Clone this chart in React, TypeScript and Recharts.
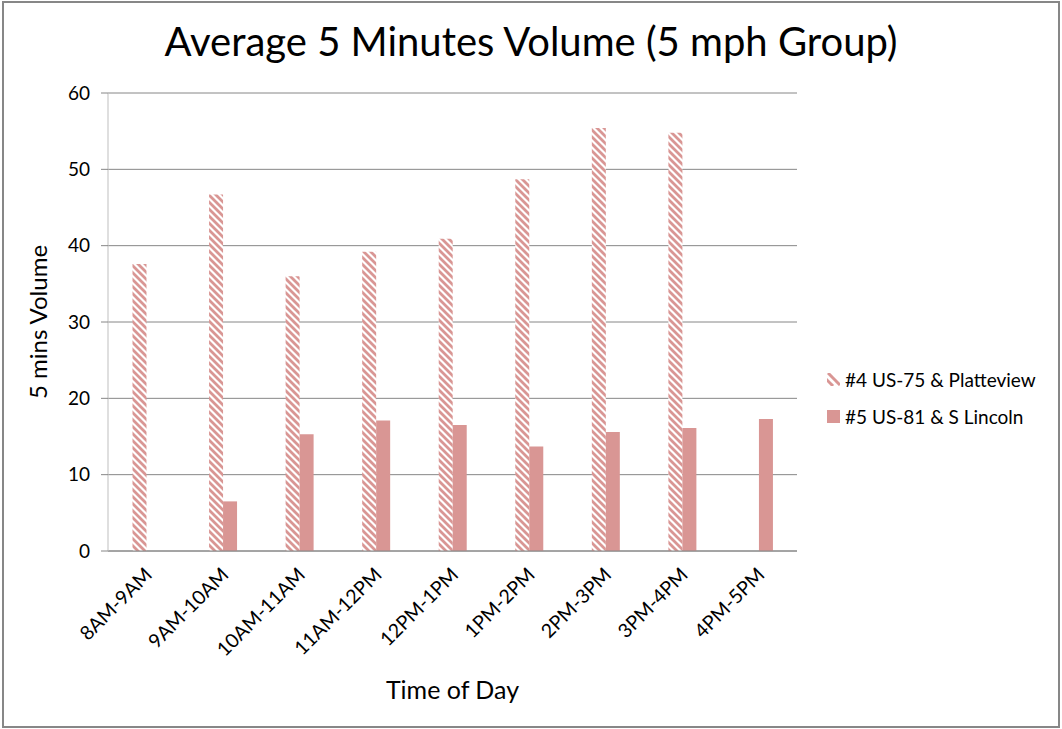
import { Bar, BarChart, CartesianGrid, XAxis, YAxis } from 'recharts'

const categories = ['8AM-9AM', '9AM-10AM', '10AM-11AM', '11AM-12PM', '12PM-1PM', '1PM-2PM', '2PM-3PM', '3PM-4PM', '4PM-5PM']
const platteview = [37.6, 46.7, 36.0, 39.2, 40.9, 48.7, 55.4, 54.8, null]
const lincoln = [null, 6.5, 15.3, 17.1, 16.5, 13.7, 15.6, 16.1, 17.3]
const yTicks = [0, 10, 20, 30, 40, 50, 60]

const SERIES_NAMES = ['#4 US-75 & Platteview', '#5 US-81 & S Lincoln']
const BAR_COLOR = '#D99694'
const FONT = 'Lato, "Open Sans", sans-serif'

const data = categories.map((name, i) => ({
  name,
  platteview: platteview[i],
  lincoln: lincoln[i],
}))

function AngledTick({ x, y, payload }: any) {
  return (
    <g transform={`translate(${x + 7},${y + 17})`}>
      <text
        textAnchor="end"
        transform="rotate(-45)"
        fontSize={19.5}
        fontFamily={FONT}
        fill="#000"
      >
        {payload.value}
      </text>
    </g>
  )
}

function HatchIcon() {
  return (
    <svg width={13} height={13} style={{ display: 'block' }}>
      <rect width={13} height={13} fill="#fff" />
      <line x1={1} y1={0} x2={13} y2={12} stroke={BAR_COLOR} strokeWidth={3} />
      <line x1={-4} y1={3} x2={6} y2={13} stroke={BAR_COLOR} strokeWidth={3} />
    </svg>
  )
}

function LegendBox() {
  return (
    <div
      style={{
        position: 'absolute',
        left: 827,
        top: 361,
        fontFamily: FONT,
        fontSize: 19,
        color: '#000',
      }}
    >
      {SERIES_NAMES.map((name, i) => (
        <div key={name} style={{ display: 'flex', alignItems: 'center', height: 37, whiteSpace: 'nowrap' }}>
          {i === 0 ? (
            <HatchIcon />
          ) : (
            <div style={{ width: 13, height: 13, background: BAR_COLOR }} />
          )}
          <span style={{ marginLeft: 5 }}>{name}</span>
        </div>
      ))}
    </div>
  )
}

export default function App() {
  return (
    <div
      style={{
        position: 'absolute',
        left: 0,
        top: 0,
        width: 1062,
        height: 729,
        background: '#fff',
        fontFamily: FONT,
      }}
    >
      <div
        style={{
          position: 'absolute',
          left: 2,
          top: 1,
          width: 1054,
          height: 723,
          border: '2px solid #878787',
        }}
      />
      <div
        style={{
          position: 'absolute',
          left: 0,
          width: 1062,
          top: 17,
          textAlign: 'center',
          fontSize: 40,
          lineHeight: '48px',
          color: '#000',
        }}
      >
        Average 5 Minutes Volume (5 mph Group)
      </div>
      <BarChart
        width={1062}
        height={729}
        data={data}
        margin={{ top: 93, right: 265, left: 0, bottom: 0 }}
        barGap={0}
        barCategoryGap="32%"
        style={{ position: 'absolute', left: 0, top: 0 }}
      >
        <defs>
          <pattern id="hatch" patternUnits="userSpaceOnUse" width={7} height={7}>
            <rect width={7} height={7} fill="#fff" />
            <path d="M-1,-1 L8,8 M-4.5,2.5 L1,8 M6,-1 L11.5,4.5" stroke={BAR_COLOR} strokeWidth={2.8} />
          </pattern>
        </defs>
        <CartesianGrid horizontal vertical={false} stroke="#868686" />
        <XAxis
          dataKey="name"
          height={178}
          tick={<AngledTick />}
          tickLine={false}
          axisLine={{ stroke: '#868686' }}
          interval={0}
          label={{
            value: 'Time of Day',
            position: 'insideBottom',
            offset: 30,
            fontSize: 25,
            fontFamily: FONT,
            fill: '#000',
          }}
        />
        <YAxis
          width={108}
          domain={[0, 60]}
          ticks={yTicks}
          tickSize={7}
          tickMargin={11}
          tickLine={{ stroke: '#868686' }}
          axisLine={{ stroke: '#BFBFBF' }}
          tick={{ fontSize: 19, fill: '#000', fontFamily: FONT }}
          label={{
            value: '5 mins Volume',
            angle: -90,
            position: 'insideLeft',
            offset: 38,
            style: { textAnchor: 'middle' },
            fontSize: 24,
            fontFamily: FONT,
            fill: '#000',
          }}
        />
        <Bar dataKey="platteview" name={SERIES_NAMES[0]} fill="url(#hatch)" isAnimationActive={false} />
        <Bar dataKey="lincoln" name={SERIES_NAMES[1]} fill={BAR_COLOR} isAnimationActive={false} />
      </BarChart>
      <LegendBox />
    </div>
  )
}
